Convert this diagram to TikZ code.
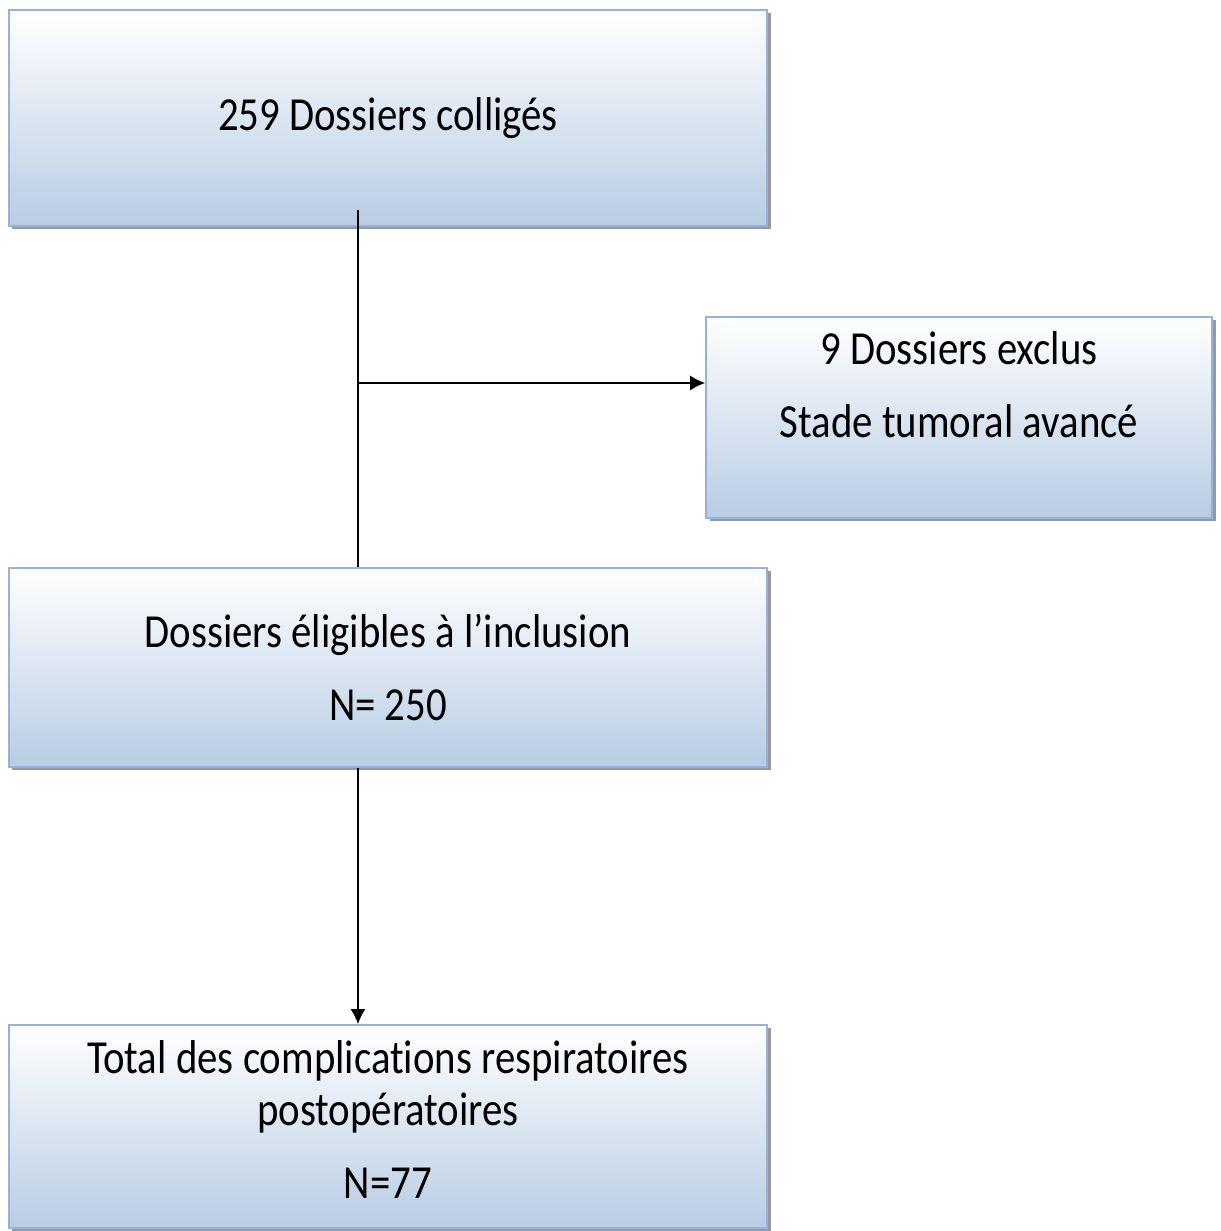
\documentclass[tikz,border=0pt]{standalone}
\usepackage{fontspec}
\setmainfont{Carlito}[FakeStretch=0.86,Ligatures=NoCommon]
\usepackage{tikz}
\usetikzlibrary{positioning,shadows,arrows.meta}
\definecolor{boxline}{HTML}{95B3D7}
\definecolor{boxfill}{HTML}{B8CCE4}
\tikzset{%
  >={Latex[length=3mm,width=3mm]},
  flowbox/.style={draw=boxline,line width=1.1pt,top color=white,
    bottom color=boxfill,align=center,inner sep=0pt,
    drop shadow={shadow xshift=0.07cm,shadow yshift=-0.07cm,fill=gray!80,opacity=1},
    font=\fontsize{27}{30}\selectfont},
  flowline/.style={line width=0.6pt,black}
}

\begin{document}
\begin{tikzpicture}
	%% page frame
	\useasboundingbox (0,0) rectangle (24.42,24.62);
	
	%% boxes
	\node[flowbox,minimum width=15.16cm,minimum height=4.32cm] (colliges) at (7.76,22.26)
	  {259 Dossiers colligés};
	\node[flowbox,minimum width=10.12cm,minimum height=4.02cm] (exclus) at (19.18,16.27)
	  {9 Dossiers exclus\\[11.5pt] Stade tumoral avancé\\[-1pt]\strut};
	\node[flowbox,minimum width=15.16cm,minimum height=3.98cm] (eligibles) at (7.76,11.27)
	  {Dossiers éligibles à l’inclusion\\[11.5pt] N= 250};
	\node[flowbox,minimum width=15.16cm,minimum height=4.06cm] (total) at (7.76,2.09)
	  {Total des complications respiratoires\\ postopératoires\\[11.5pt] N=77\\[-31pt]\strut};
	
	%% connectors
	\coordinate (start) at (7.16,20.42);
	\coordinate (branch) at (7.16,16.96);
	\draw[flowline] (start) -- (start |- eligibles.north);
	\draw[flowline,->] (branch) -- (exclus.west |- branch);
	\draw[flowline,->] (start |- eligibles.south) -- (start |- total.north);
\end{tikzpicture}
\end{document}
